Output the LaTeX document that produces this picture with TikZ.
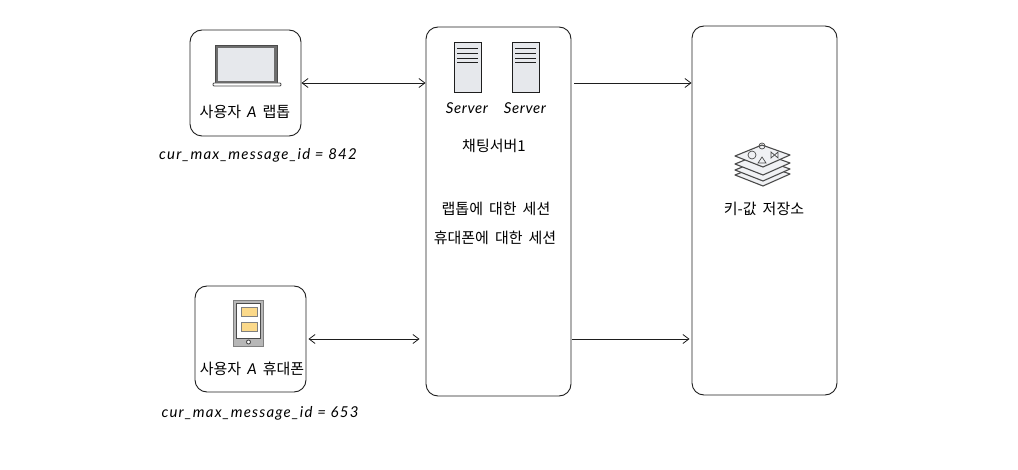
\documentclass[tikz,border=0pt]{standalone}
\usepackage{fontspec}
\setmainfont{Noto Sans CJK KR}[WordSpace=1.8]
\newfontfamily\handfont{Lato}[LetterSpace=8]
\newfontfamily\srvfont{Lato}[LetterSpace=4]
\usepackage{xcolor}
\usetikzlibrary{arrows.meta}
\definecolor{inkline}{HTML}{1E1E1E}
\definecolor{iconline}{HTML}{4A4A4A}
\definecolor{iconfill}{HTML}{E6E8EC}
\definecolor{memoyellow}{HTML}{FBD98A}
\begin{document}
\begin{tikzpicture}[
  x=1pt, y=-1pt,
  font=\fontsize{15}{16}\selectfont,
  >={Straight Barb[length=6pt,width=9pt]},
  box/.style={draw=inkline, rounded corners=12pt, line width=0.9pt, inner sep=0pt},
  ar/.style={<->, draw=inkline, line width=0.8pt},
  oneway/.style={->, draw=inkline, line width=0.8pt},
  idlabel/.style={font=\fontsize{15}{16}\selectfont\handfont\itshape},
  srvlabel/.style={font=\fontsize{15}{16}\selectfont\srvfont\itshape},
  icon/.style={draw=iconline, line width=0.9pt},
]
\useasboundingbox (0,0) rectangle (1018,470);
% boxes
\node[box, minimum width=111pt, minimum height=106pt] (laptop) at (245.5,83) {};
\node[box, minimum width=111pt, minimum height=106pt] (phone) at (250.5,339) {};
\node[box, minimum width=145pt, minimum height=369pt] (chat) at (498.5,211.5) {};
\node[box, minimum width=145pt, minimum height=369pt] (store) at (764.5,210.5) {};
% laptop icon
\draw[icon, fill=iconline!80] (215,45) rectangle (277,83);
\fill[iconfill] (218,48) rectangle (274,81);
\draw[icon, fill=white, rounded corners=1pt] (213,83) rectangle (281,86);
% phone icon
\draw[icon, draw=iconline!70, fill=iconline!40] (233,300) rectangle (263,346);
\draw[icon, fill=white] (236,303) rectangle (260,338);
\draw[icon, draw=iconline!70, line width=0.5pt, fill=memoyellow] (241,307) rectangle (257,316);
\draw[icon, draw=iconline!70, line width=0.5pt, fill=memoyellow] (241,322) rectangle (257,331);
\draw[icon, fill=white] (248.5,342) circle (2);
% server icons
\foreach \sx in {454,512} {
  \draw[icon, draw=inkline, fill=iconfill] (\sx,42) rectangle (\sx+27,92);
  \foreach \sy in {48,53,58,62}
    \draw[inkline, line width=0.8pt] (\sx+3,\sy) -- (\sx+24,\sy);
}
% stack icon
\foreach \dy in {19,14,8,0}
  \draw[icon, line width=1.1pt, fill=iconfill!60, line join=round] (735,156+\dy) -- (762,145+\dy) -- (790,155+\dy) -- (763,167+\dy) -- cycle;
\draw[icon, line width=0.7pt] (752,155) circle (4);
\draw[icon, line width=0.7pt] (758,163) -- (762,157) -- (766,163) -- cycle;
\draw[icon, line width=0.7pt] (762,146) circle (3);
\draw[icon, line width=0.7pt] (771,152) -- (778,158) -- (778,152) -- (771,158) -- cycle;
% labels
\node (lbl1) at (245,112) {사용자 {\handfont\itshape A} 랩톱};
\node[idlabel] (id1) at (258,155) {cur\_max\_message\_id = 842};
\node (lbl2) at (252,369) {사용자 {\handfont\itshape A} 휴대폰};
\node[idlabel] (id2) at (260,413) {cur\_max\_message\_id = 653};
\node[srvlabel] (srv1) at (467,108) {Server};
\node[srvlabel] (srv2) at (525,108) {Server};
\node (chatname) at (494,146) {채팅서버1};
\node (sess1) at (496,209) {랩톱에 대한 세션};
\node (sess2) at (495,238) {휴대폰에 대한 세션};
\node (storename) at (764,209) {키-값 저장소};
% connectors
\draw[ar] (laptop.east) -- (laptop.east -| chat.west);
\draw[ar, shorten <=2pt, shorten >=6pt] (phone.east) -- (phone.east -| chat.west);
\draw[oneway, shorten <=3pt] (chat.east |- laptop.east) -- (store.west |- laptop.east);
\draw[oneway, shorten <=1pt, shorten >=2pt] (chat.east |- phone.east) -- (store.west |- phone.east);
\end{tikzpicture}
\end{document}
